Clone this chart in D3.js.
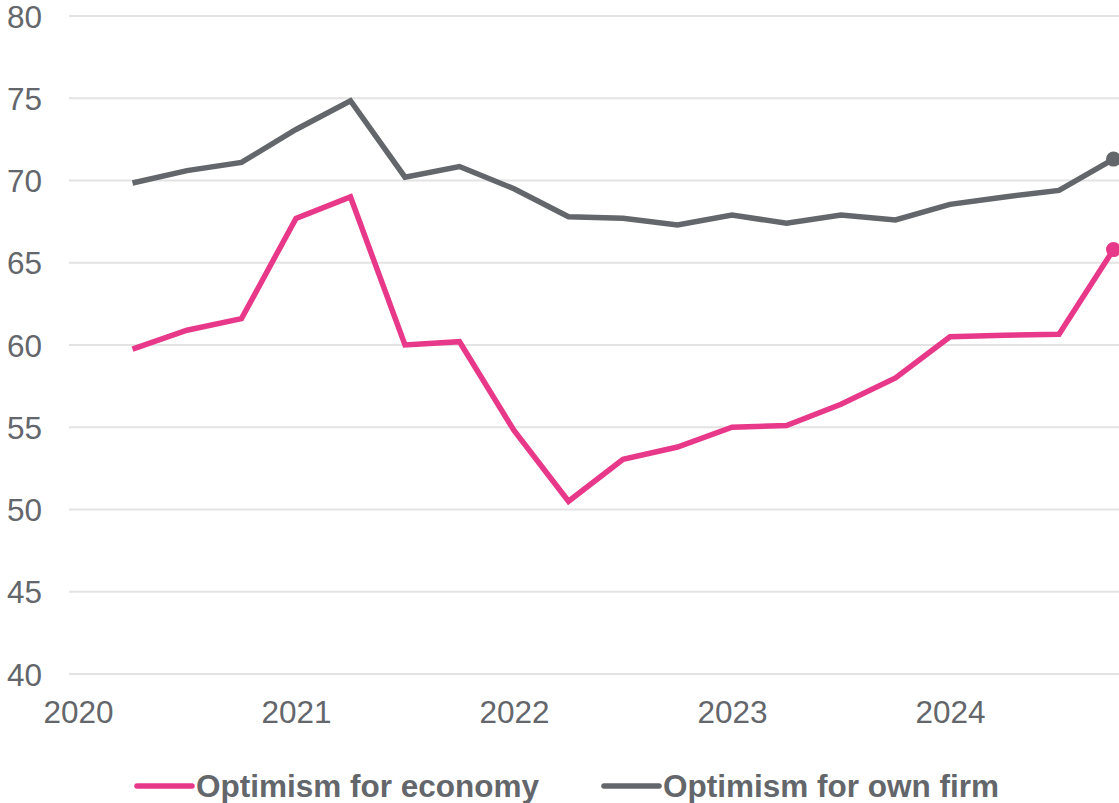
<!DOCTYPE html>
<html>
<head>
<meta charset="utf-8">
<script src="https://cdn.jsdelivr.net/npm/d3@7"></script>
<style>
  html, body { margin: 0; padding: 0; background: #fff; }
  svg { display: block; font-family: "Liberation Sans", Arial, sans-serif; }
</style>
</head>
<body>
<svg id="chart" width="1119" height="803"></svg>
<script>
// Quarterly survey periods, as decimal years (Q2 2020 .. Q4 2024)
const periods = [2020.25, 2020.5, 2020.75, 2021, 2021.25, 2021.5, 2021.75,
  2022, 2022.25, 2022.5, 2022.75, 2023, 2023.25, 2023.5, 2023.75,
  2024, 2024.25, 2024.5, 2024.75];

// Optimism index readings
const economy = [59.75, 60.9, 61.6, 67.7, 69.0, 60.0, 60.2,
  54.8, 50.5, 53.05, 53.8, 55.0, 55.1, 56.4, 58.0,
  60.5, 60.6, 60.65, 65.8];
const ownFirm = [69.85, 70.6, 71.1, 73.1, 74.85, 70.2, 70.85,
  69.5, 67.8, 67.7, 67.3, 67.9, 67.4, 67.9, 67.6,
  68.55, 69.0, 69.4, 71.3];

const yTicks = [40, 45, 50, 55, 60, 65, 70, 75, 80];
const xTicks = [2020, 2021, 2022, 2023, 2024];

const seriesNames = ["Optimism for economy", "Optimism for own firm"];
const seriesColors = ["#e8388a", "#63666a"];

const textColor = "#63666a";
const gridColor = "#e3e3e3";
const fontSize = 31.5;

const svg = d3.select("#chart");

const x = d3.scaleLinear().domain([2020, 2024.75]).range([78, 1113.5]);
const y = d3.scaleLinear().domain([40, 80]).range([674, 16]);

// Horizontal gridlines
svg.append("g")
  .selectAll("line")
  .data(yTicks)
  .join("line")
  .attr("x1", 69).attr("x2", 1119)
  .attr("y1", d => y(d)).attr("y2", d => y(d))
  .attr("stroke", gridColor)
  .attr("stroke-width", 2);

// Y axis labels
const yAxis = d3.axisLeft(y).tickValues(yTicks).tickSize(0).tickPadding(0);
const gy = svg.append("g").attr("transform", "translate(42,0)").call(yAxis);
gy.select(".domain").remove();
gy.selectAll("text")
  .attr("fill", textColor)
  .attr("font-size", fontSize)
  .attr("font-family", "Liberation Sans, Arial, sans-serif")
  .attr("dy", "0.35em");

// X axis labels
const xAxis = d3.axisBottom(x).tickValues(xTicks).tickFormat(d3.format("d")).tickSize(0).tickPadding(0);
const gx = svg.append("g").attr("transform", "translate(0,701)").call(xAxis);
gx.select(".domain").remove();
gx.selectAll("text")
  .attr("fill", textColor)
  .attr("font-size", fontSize)
  .attr("font-family", "Liberation Sans, Arial, sans-serif")
  .attr("dy", "0.71em");

// Series lines with end markers
const series = [economy, ownFirm];
const line = d3.line()
  .x((d, i) => x(periods[i]))
  .y(d => y(d));

series.forEach((vals, k) => {
  svg.append("path")
    .datum(vals)
    .attr("d", line)
    .attr("fill", "none")
    .attr("stroke", seriesColors[k])
    .attr("stroke-width", 5.5)
    .attr("stroke-linejoin", "miter");
  const last = vals.length - 1;
  svg.append("circle")
    .attr("cx", x(periods[last]))
    .attr("cy", y(vals[last]))
    .attr("r", 7.5)
    .attr("fill", seriesColors[k]);
});

// Legend
const legendX = [137, 604];
const legend = svg.append("g");
seriesNames.forEach((name, k) => {
  const g = legend.append("g").attr("transform", `translate(${legendX[k]},786)`);
  g.append("line")
    .attr("x1", 0).attr("x2", 55)
    .attr("stroke", seriesColors[k])
    .attr("stroke-width", 5.5)
    .attr("stroke-linecap", "round");
  g.append("text")
    .attr("x", 59)
    .attr("dy", "0.36em")
    .attr("fill", textColor)
    .attr("font-size", fontSize)
    .attr("font-weight", "bold")
    .text(name);
});
</script>
</body>
</html>
